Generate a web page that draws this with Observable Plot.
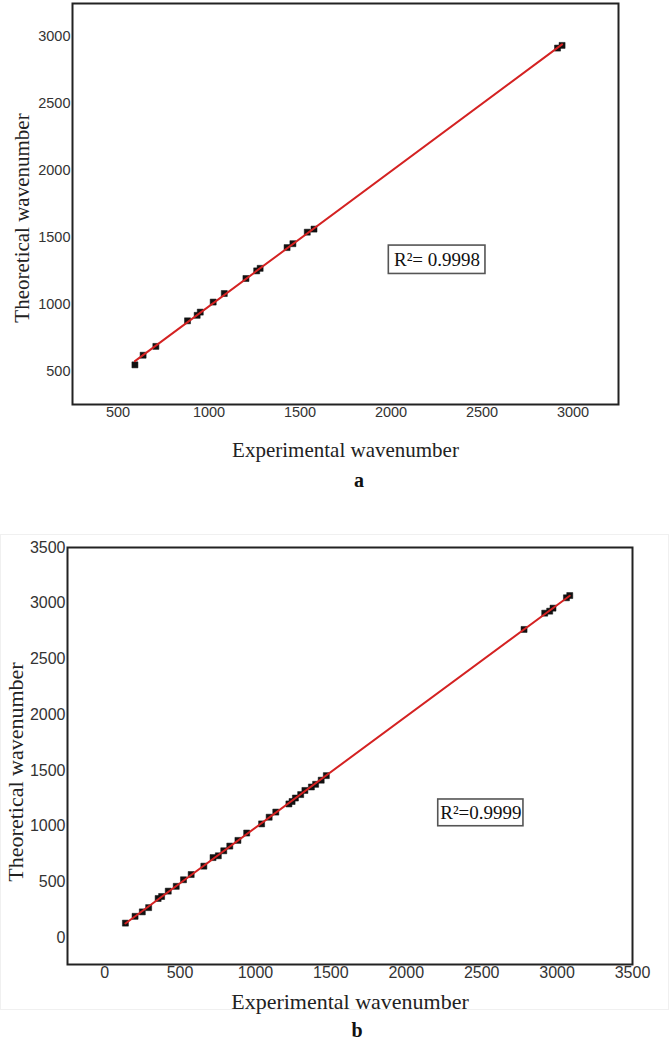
<!DOCTYPE html>
<html>
<head>
<meta charset="utf-8">
<script src="https://cdn.jsdelivr.net/npm/d3@7"></script>
<script src="https://cdn.jsdelivr.net/npm/@observablehq/plot@0.6"></script>
<style>
  html, body { margin: 0; padding: 0; background: #fff; }
  #page { position: relative; width: 669px; height: 1040px; overflow: hidden; }
  .chart { position: absolute; left: 0; }
  .cap { position: absolute; left: 0; text-align: center; font: bold 20px "Liberation Serif", "Times New Roman", serif; line-height: 20px; color: #111; }
  #bborder { position: absolute; left: 0; top: 534px; width: 667px; height: 474px; border: 1px solid #f0f0f0; }
</style>
</head>
<body>
<div id="page">
  <div id="bborder"></div>
  <div id="chartA" class="chart" style="top:0px"></div>
  <div class="cap" style="top:470px; width:718px">a</div>
  <div id="chartB" class="chart" style="top:500px"></div>
  <div class="cap" style="top:1020px; width:714px">b</div>
</div>
<script>
// ---- Data ----
const xTitle = "Experimental wavenumber";
const yTitle = "Theoretical wavenumber";

// Panel a
const aExperimental = [593, 638, 708, 882, 935, 952, 1023, 1084, 1203, 1262, 1281, 1429, 1461, 1540, 1577, 2915, 2940];
const aTheoretical  = [546, 618, 684, 875, 916, 940, 1015, 1079, 1191, 1248, 1267, 1422, 1451, 1537, 1560, 2912, 2932];
const aTicks = [500, 1000, 1500, 2000, 2500, 3000];
const aNote = [{label: "R²= 0.9998", x: 2253, y: 1331, x1: 1988, x2: 2519, y1: 1225, y2: 1437}];

// Panel b
const bExperimental = [138, 202, 250, 292, 355, 378, 422, 475, 523, 574, 658, 719, 754, 790, 830, 884, 942, 1041, 1091, 1135, 1222, 1243, 1265, 1300, 1328, 1371, 1399, 1436, 1470, 2781, 2918, 2951, 2973, 3062, 3084];
const bTheoretical  = [131, 192, 232, 270, 352, 370, 418, 461, 520, 567, 642, 719, 735, 780, 822, 873, 939, 1021, 1081, 1127, 1200, 1222, 1253, 1284, 1321, 1352, 1376, 1413, 1454, 2765, 2911, 2929, 2956, 3049, 3069];
const bTicks = [0, 500, 1000, 1500, 2000, 2500, 3000, 3500];
const bNote = [{label: "R²=0.9999", x: 2495, y: 1120, x1: 2212, x2: 2777, y1: 1000, y2: 1240}];

const aData = aExperimental.map((x, i) => ({x, y: aTheoretical[i]}));
const bData = bExperimental.map((x, i) => ({x, y: bTheoretical[i]}));

const serif = '"Liberation Serif", "Times New Roman", serif';
const sans = '"Liberation Sans", Arial, sans-serif';

function panel({data, ticks, note, width, height, margins, xDomain, yDomain, tickFont, titleFont, xTitleDy, yTitleDx, yTitleDy}) {
  return Plot.plot({
    width, height,
    marginTop: margins[0], marginRight: margins[1], marginBottom: margins[2], marginLeft: margins[3],
    style: {fontFamily: sans, fontSize: tickFont + "px", color: "#333", background: "transparent"},
    x: {domain: xDomain, ticks, tickSize: 0, tickPadding: 2, tickFormat: "d", label: null},
    y: {domain: yDomain, ticks, tickSize: 0, tickPadding: 2, tickFormat: "d", label: null},
    marks: [
      Plot.rect(note, {x1: "x1", x2: "x2", y1: "y1", y2: "y2", fill: "white", stroke: "#555", strokeWidth: 1.6}),
      Plot.text(note, {x: "x", y: "y", text: "label", fontFamily: serif, fontSize: 19, fill: "#111"}),
      Plot.dot(data, {x: "x", y: "y", symbol: "square", r: 3.4, fill: "#111", stroke: "#111", strokeWidth: 0.5}),
      Plot.linearRegressionY(data, {x: "x", y: "y", stroke: "#d42222", strokeWidth: 2, ci: 0}),
      Plot.frame({stroke: "#222", strokeWidth: 2}),
      Plot.text([xTitle], {text: d => d, frameAnchor: "bottom", lineAnchor: "middle", textAnchor: "middle", dy: xTitleDy, fontFamily: serif, fontSize: titleFont, fill: "#222"}),
      Plot.text([yTitle], {text: d => d, frameAnchor: "left", lineAnchor: "middle", textAnchor: "middle", rotate: -90, dx: yTitleDx, dy: yTitleDy, fontFamily: serif, fontSize: titleFont, fill: "#222"})
    ]
  });
}

document.getElementById("chartA").append(panel({
  data: aData, ticks: aTicks, note: aNote,
  width: 669, height: 470, margins: [3, 51, 66, 72],
  xDomain: [250, 3250], yDomain: [250, 3245],
  tickFont: 14.5, titleFont: 21, xTitleDy: 46, yTitleDx: -50, yTitleDy: 14
}));

document.getElementById("chartB").append(panel({
  data: bData, ticks: bTicks, note: bNote,
  width: 669, height: 520, margins: [47, 37, 56, 67],
  xDomain: [-246, 3500], yDomain: [-240, 3500],
  tickFont: 16, titleFont: 22, xTitleDy: 37, yTitleDx: -52, yTitleDy: 16
}));
</script>
</body>
</html>
